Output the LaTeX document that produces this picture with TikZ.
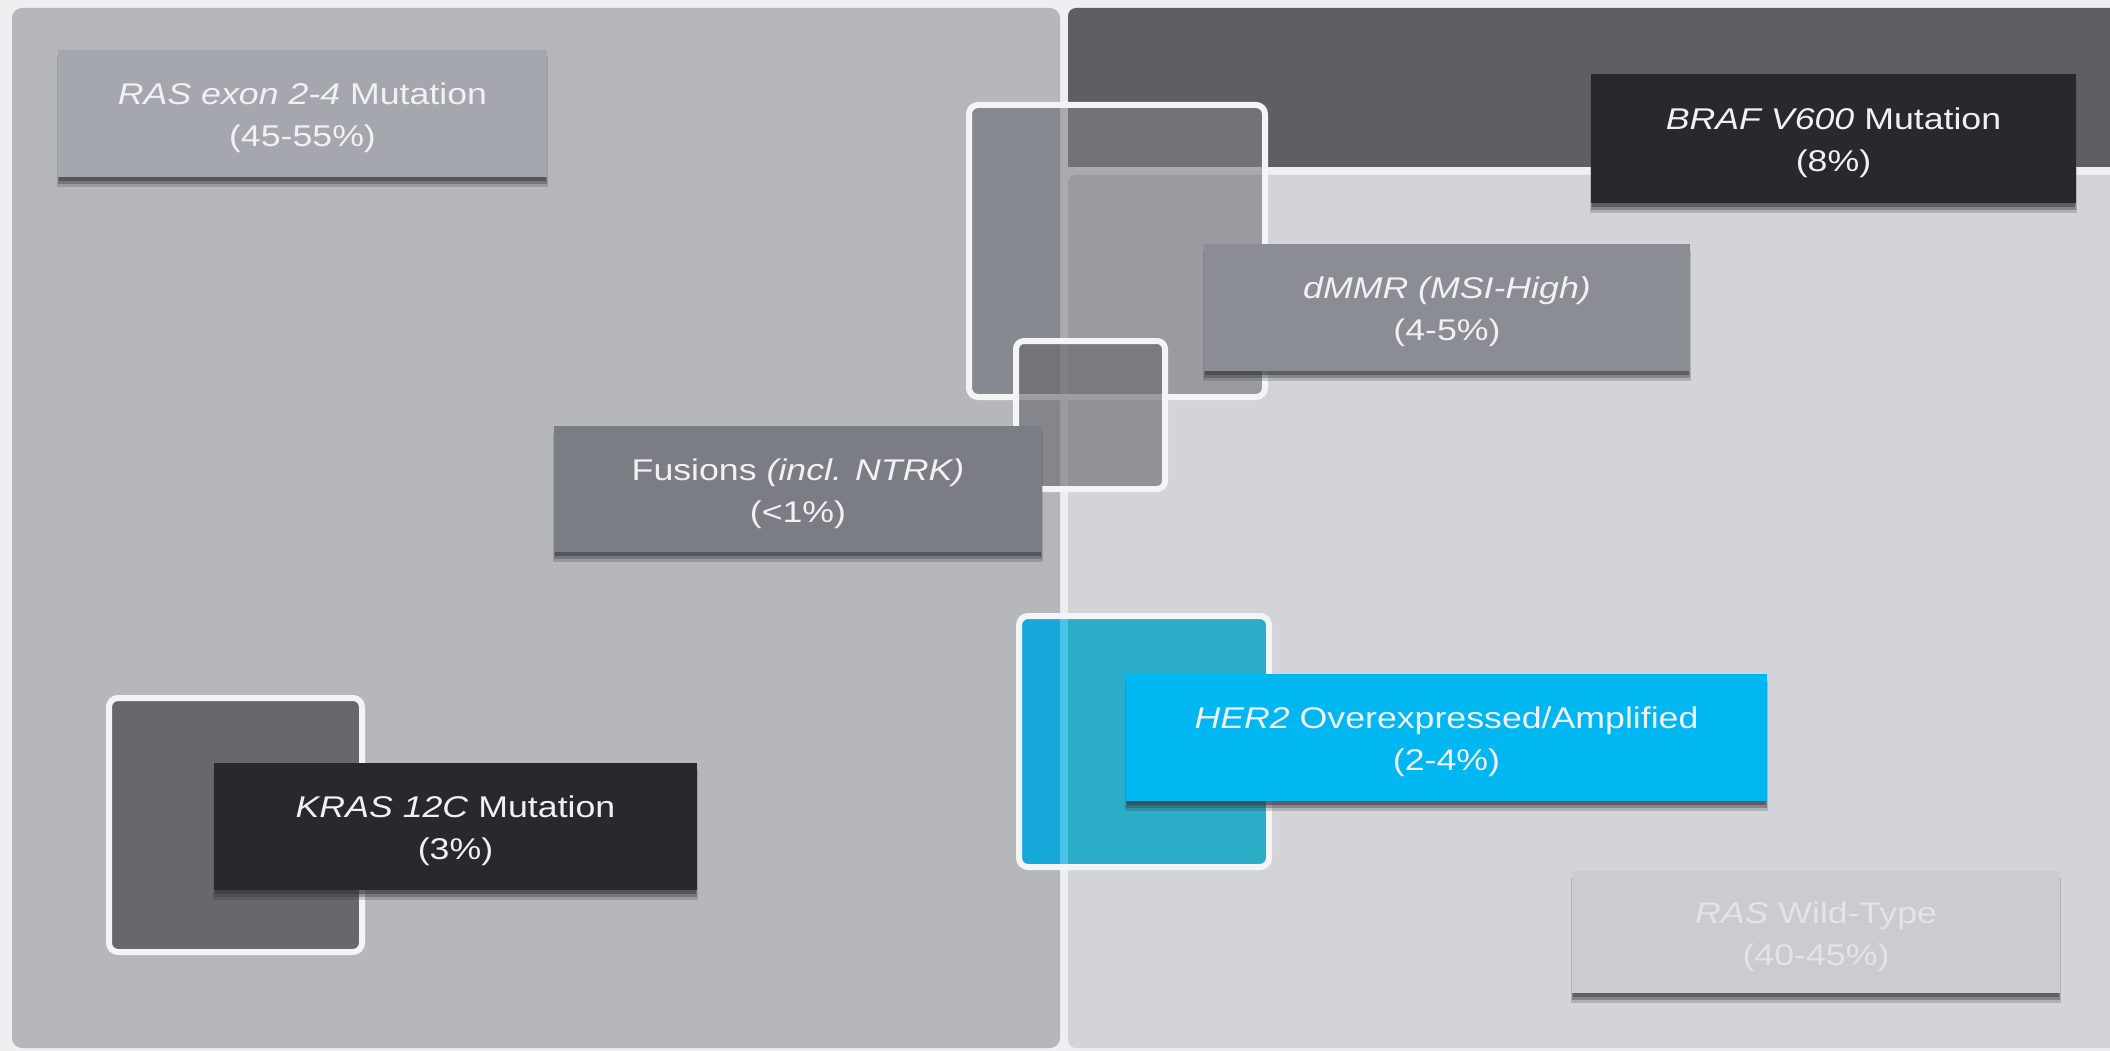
\documentclass[tikz,border=0pt]{standalone}
\usepackage{fontspec}
\setmainfont{Liberation Sans}
\usepackage{graphicx}

\definecolor{pagebg}{HTML}{EEEFF1}
\definecolor{mutpanel}{HTML}{B5B7BB}
\definecolor{brafband}{HTML}{5E5F63}
\definecolor{wtpanel}{HTML}{D3D4D8}
\definecolor{framec}{HTML}{F4F4F6}
\definecolor{squareA}{HTML}{444650}
\definecolor{squareAdark}{HTML}{717379}
\definecolor{squareB}{HTML}{64666C}
\definecolor{squareC}{HTML}{67686D}
\definecolor{herL}{HTML}{17A9DA}
\definecolor{herGap}{HTML}{48C3EA}
\definecolor{herR}{HTML}{2BADC7}
\definecolor{boxshade}{HTML}{35373D}
\definecolor{rasbox}{HTML}{A5A7AE}
\definecolor{fusbox}{HTML}{7A7D84}
\definecolor{mmrbox}{HTML}{8A8D94}
\definecolor{darkbox}{HTML}{28292D}
\definecolor{herbox}{HTML}{00B7F1}
\definecolor{wtbox}{HTML}{CBCCD1}
\definecolor{lbltext}{HTML}{F1F1F3}
\definecolor{wttext}{HTML}{E3E4E7}

% labels are set slightly wider than the plain face
\newcommand\wideline[1]{\scalebox{1.19}[1]{#1}}

\tikzset{
  boxbody/.style={rectangle, draw=none, inner sep=0pt, outer sep=0pt, anchor=north west},
  boxtext/.style={inner sep=0pt, align=center, font=\fontsize{30}{42}\selectfont},
  frame/.style={draw=framec, line width=6pt},
}

% #1 name, #2-#5 corners (x1,y1,x2,y2), #6 fill, #7 text colour, #8 label
\newcommand\infobox[8]{%
  \fill[boxshade, opacity=.22] (#2-1,#3+7) rectangle (#4+1,#5+10);
  \fill[boxshade, opacity=.35] (#2,#3+5) rectangle (#4,#5+7);
  \fill[boxshade, opacity=.5] (#2+1,#3+3) rectangle (#4-1,#5+4);
  \node[boxbody, fill=#6, minimum width={#4-#2}, minimum height={#5-#3}] (#1) at (#2,#3) {};
  \node[boxtext, text=#7] (#1-text) at ([yshift=-4.7pt]#1.center) {#8};
}

\begin{document}
\begin{tikzpicture}[x=1pt, y=-1pt]
  \useasboundingbox (0,0) rectangle (2110,1051);
  \fill[pagebg] (0,0) rectangle (2110,1051);

  % three background fields
  \fill[mutpanel, rounded corners=10pt] (12,8) rectangle (1060,1048);
  \begin{scope}
    \clip (0,0) rectangle (2110,1051);
    \fill[brafband, rounded corners=8pt] (1068,8) rectangle (2130,167);
    \fill[wtpanel, rounded corners=8pt] (1068,175) rectangle (2130,1048);
  \end{scope}

  % translucent frame around the MSI / fusion overlap
  \begin{scope}
    \clip[rounded corners=9pt] (969,105) rectangle (1265,397);
    \fill[squareA, opacity=.4] (969,105) rectangle (1265,397);
    \fill[squareAdark] (1068,100) rectangle (1270,167);
  \end{scope}
  \draw[frame, rounded corners=9pt] (969,105) rectangle (1265,397);

  \fill[squareB, opacity=.6, rounded corners=8pt] (1016,341) rectangle (1165,489);
  \draw[frame, rounded corners=8pt] (1016,341) rectangle (1165,489);

  % frame behind KRAS 12C
  \fill[squareC, rounded corners=9pt] (109,698) rectangle (362,952);
  \draw[frame, rounded corners=9pt] (109,698) rectangle (362,952);

  % frame behind HER2
  \begin{scope}
    \clip[rounded corners=9pt] (1019,616) rectangle (1269,867);
    \fill[herR] (1010,610) rectangle (1275,875);
    \fill[herL] (1010,610) rectangle (1060,875);
    \fill[herGap] (1060,610) rectangle (1068,875);
  \end{scope}
  \draw[frame, rounded corners=9pt] (1019,616) rectangle (1269,867);

  % labelled boxes
  \infobox{ras}{58}{50}{547}{177}{rasbox}{lbltext}
    {\wideline{\textit{RAS exon 2-4} Mutation}\\\wideline{(45-55\%)}}
  \infobox{fusion}{554}{426}{1042}{552}{fusbox}{lbltext}
    {\wideline{Fusions \textit{(incl. NTRK)}}\\\wideline{(<1\%)}}
  \infobox{dmmr}{1204}{244}{1690}{371}{mmrbox}{lbltext}
    {\wideline{\textit{dMMR (MSI-High)}}\\\wideline{(4-5\%)}}
  \infobox{braf}{1591}{74}{2076}{203}{darkbox}{lbltext}
    {\wideline{\textit{BRAF V600} Mutation}\\\wideline{(8\%)}}
  \infobox{kras}{214}{763}{697}{890}{darkbox}{lbltext}
    {\wideline{\textit{KRAS 12C} Mutation}\\\wideline{(3\%)}}
  \infobox{her2}{1126}{674}{1767}{801}{herbox}{lbltext}
    {\wideline{\textit{HER2} Overexpressed/Amplified}\\\wideline{(2-4\%)}}
  \infobox{raswt}{1572}{871}{2060}{993}{wtbox}{wttext}
    {\wideline{\textit{RAS} Wild-Type}\\\wideline{(40-45\%)}}
\end{tikzpicture}
\end{document}
